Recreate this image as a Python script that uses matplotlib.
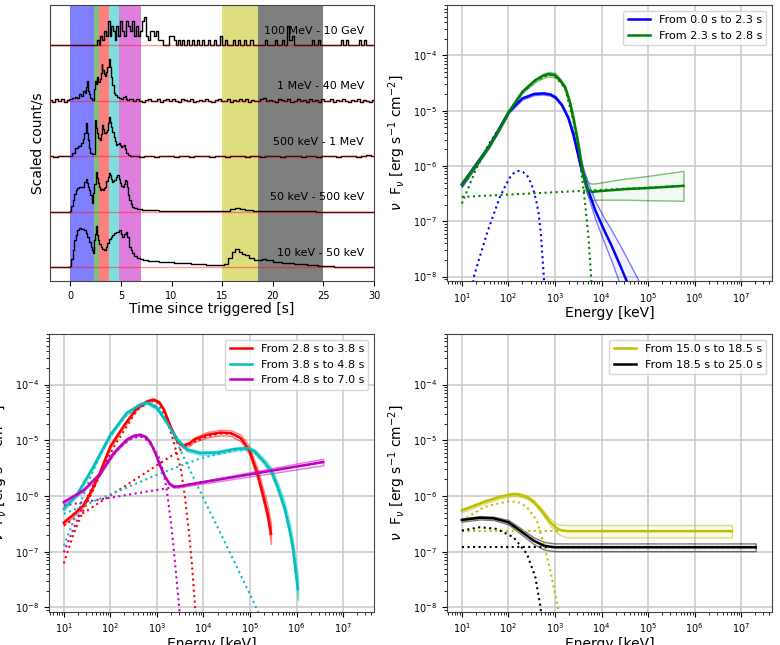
import matplotlib
matplotlib.use('Agg')
import matplotlib.pyplot as plt
from matplotlib.colors import to_rgba
from matplotlib.ticker import LogLocator, NullFormatter
import numpy as np

# ---------------- light curves (scaled counts, stacked) ----------------
band_labels = ['10 keV - 50 keV', '50 keV - 500 keV', '500 keV - 1 MeV',
               '1 MeV - 40 MeV', '100 MeV - 10 GeV']

t_10keV = [-2.0, -1.0, -0.05, 0.0, 0.15, 0.3, 0.45, 0.62, 0.8, 0.95, 1.1, 1.3, 1.45, 1.6, 1.78,
           1.95, 2.1, 2.2, 2.27, 2.35, 2.44, 2.52, 2.6, 2.68, 2.77, 2.9, 3.1, 3.25, 3.42, 3.6,
           3.75, 3.9, 4.08, 4.25, 4.41, 4.6, 4.75, 4.9, 5.05, 5.23, 5.4, 5.56, 5.7, 5.9, 6.05,
           6.22, 6.45, 6.7, 7.0, 7.4, 8.0, 9.5, 11.0, 12.8, 14.0, 15.0, 15.4, 15.8, 16.1, 16.45,
           16.8, 17.1, 17.4, 17.9, 18.4, 18.8, 19.1, 19.6, 20.4, 21.5, 22.7, 24.0, 25.0, 27.0, 30.0]
c_10keV = [0.0, 0.0, 0.0, 0.02, 0.15, 0.31, 0.48, 0.58, 0.66, 0.70, 0.68, 0.69, 0.67, 0.62, 0.55,
           0.45, 0.37, 0.30, 0.25, 0.33, 0.49, 0.6, 0.74, 0.58, 0.49, 0.42, 0.37, 0.33, 0.31, 0.36,
           0.43, 0.5, 0.55, 0.58, 0.61, 0.64, 0.63, 0.67, 0.6, 0.55, 0.6, 0.64, 0.55, 0.37, 0.3,
           0.25, 0.2, 0.16, 0.14, 0.12, 0.11, 0.09, 0.07, 0.05, 0.04, 0.03, 0.06, 0.17, 0.27, 0.32,
           0.28, 0.24, 0.21, 0.16, 0.12, 0.13, 0.15, 0.13, 0.09, 0.07, 0.05, 0.03, 0.02, 0.01, 0.0]

t_50keV = [-2.0, -0.05, 0.0, 0.15, 0.3, 0.45, 0.62, 0.8, 0.95, 1.1, 1.28, 1.45, 1.6, 1.7, 1.78,
           1.94, 2.05, 2.17, 2.25, 2.33, 2.45, 2.6, 2.68, 2.77, 2.9, 3.0, 3.13, 3.26, 3.4, 3.5,
           3.62, 3.75, 3.85, 3.98, 4.08, 4.18, 4.3, 4.41, 4.55, 4.74, 4.85, 5.0, 5.12, 5.23, 5.35,
           5.46, 5.56, 5.66, 5.78, 5.9, 6.05, 6.22, 6.45, 6.7, 7.5, 10.0, 15.0, 15.5, 16.0, 16.45,
           17.0, 17.6, 18.5, 30.0]
c_50keV = [0.0, 0.0, 0.02, 0.1, 0.21, 0.31, 0.39, 0.43, 0.45, 0.44, 0.45, 0.54, 0.58, 0.52, 0.45,
           0.39, 0.3, 0.15, 0.2, 0.33, 0.5, 0.72, 0.6, 0.51, 0.45, 0.39, 0.41, 0.39, 0.42, 0.45,
           0.55, 0.63, 0.69, 0.66, 0.58, 0.54, 0.55, 0.57, 0.62, 0.66, 0.58, 0.51, 0.46, 0.45, 0.5,
           0.57, 0.55, 0.45, 0.3, 0.21, 0.13, 0.09, 0.06, 0.05, 0.03, 0.02, 0.01, 0.02, 0.04, 0.06,
           0.05, 0.03, 0.01, 0.0]

t_500keV = [-2.0, -1.5, -1.0, -0.5, 0.0, 0.3, 0.66, 0.9, 1.15, 1.3, 1.48, 1.56, 1.64, 1.72, 1.8,
            1.92, 2.04, 2.2, 2.35, 2.45, 2.53, 2.62, 2.73, 2.85, 2.96, 3.08, 3.19, 3.3, 3.45, 3.57,
            3.68, 3.8, 3.91, 4.0, 4.11, 4.22, 4.34, 4.47, 4.6, 4.72, 4.84, 4.97, 5.1, 5.2, 5.33,
            5.45, 5.6, 5.8]
c_500keV = [0.01, -0.01, 0.01, 0.0, 0.01, 0.06, 0.14, 0.18, 0.23, 0.3, 0.41, 0.5, 0.59, 0.42, 0.29,
            0.15, 0.05, 0.04, 0.03, 0.3, 0.65, 0.5, 0.41, 0.33, 0.29, 0.4, 0.56, 0.48, 0.41, 0.44,
            0.47, 0.6, 0.71, 0.62, 0.53, 0.44, 0.35, 0.27, 0.2, 0.22, 0.23, 0.2, 0.17, 0.19, 0.2,
            0.12, 0.05, 0.02]
tail_500keV = [0.0, 0.01, -0.01, 0.01, 0.0, -0.01, 0.01, 0.0, 0.01, -0.01, 0.0, 0.01, -0.01, 0.0,
               0.01, 0.0, -0.01, 0.01, 0.0, -0.01, 0.01, 0.01, 0.0, -0.01, 0.0, 0.01, -0.01, 0.0,
               0.01, 0.0, -0.01, 0.01, 0.0, 0.01, -0.01, 0.0, 0.01, -0.01, 0.0, 0.01, 0.0, -0.01,
               0.0, 0.01, 0.0, -0.01, 0.01, 0.02, 0.0]

t_1MeV = [-2.0, -1.7, -1.4, -1.1, -0.8, -0.5, -0.2, 0.0, 0.3, 0.6, 0.8, 1.0, 1.2, 1.35, 1.5,
          1.6, 1.68, 1.76, 1.9, 2.05, 2.25, 2.4, 2.5, 2.6, 2.7, 2.85, 2.95, 3.05, 3.13, 3.22,
          3.35, 3.5, 3.6, 3.75, 3.88, 3.98, 4.1, 4.2, 4.35, 4.5, 4.7, 4.9, 5.1, 5.3, 5.43,
          5.55, 5.7]
c_1MeV = [0.01, -0.02, 0.03, -0.01, 0.02, -0.03, 0.01, 0.02, 0.05, 0.07, 0.05, 0.11, 0.09, 0.17, 0.14,
          0.24, 0.36, 0.17, 0.12, 0.04, 0.01, 0.2, 0.36, 0.3, 0.42, 0.33, 0.38, 0.5, 0.66, 0.55,
          0.48, 0.45, 0.52, 0.6, 0.75, 0.6, 0.42, 0.28, 0.14, 0.1, 0.06, 0.04, 0.03, 0.07, 0.09,
          0.03, 0.01]
tail_1MeV = [0.02, -0.01, 0.03, 0.0, -0.02, 0.01, 0.03, -0.01, 0.0, 0.02, -0.03, 0.01, 0.02, -0.01,
             0.03, 0.0, -0.02, 0.02, 0.01, -0.01, 0.03, -0.02, 0.0, 0.01, -0.01, 0.02, 0.0, -0.02,
             0.01, 0.03, -0.01, 0.0, 0.02, -0.02, 0.01, 0.0, 0.03, -0.01, 0.02, -0.02, 0.01, 0.0,
             -0.01, 0.02, 0.04, -0.01, 0.01, 0.0, -0.02, 0.02, 0.01, -0.01, 0.03, -0.02, 0.0, 0.02,
             -0.01, 0.01, -0.03, 0.02, 0.0, 0.01, -0.02, 0.03, -0.01, 0.0, 0.02, -0.02, 0.01, -0.01,
             0.02, 0.0, -0.02, 0.01, -0.01, 0.02, -0.03, 0.01, 0.0, -0.02, 0.01]

# LAT: bin start times and photon counts
t_LAT = [-2.0, 2.6, 2.8, 2.9, 3.1, 3.3, 3.5, 3.7, 3.9, 4.0, 4.2, 4.4, 4.5, 4.7, 4.9, 5.1, 5.3, 5.5,
         5.7, 5.9, 6.1, 6.3, 6.5, 6.7, 6.9, 7.1, 7.3, 7.5, 7.7, 7.9, 8.1, 8.3, 8.5, 8.7, 8.9, 9.2,
         9.8, 10.2, 10.4, 10.6, 10.8, 11.0, 11.2, 11.5, 11.7, 12.0, 12.2, 12.5, 12.7, 13.0, 13.2,
         13.6, 13.8, 14.2, 14.4, 14.8, 15.0, 15.3, 15.5, 16.1, 16.3, 16.6, 16.8, 17.2, 17.4, 17.8,
         18.0, 19.2, 19.4, 20.2, 20.4, 20.9, 21.1, 21.4, 21.6, 21.9, 22.1, 23.9, 24.1, 24.5, 24.7,
         26.7, 26.9, 27.2, 27.4, 28.5, 28.7, 29.0, 29.2, 30.0]
n_LAT = [0, 1, 0, 2, 1, 3, 2, 5, 2, 4, 3, 1, 4, 2, 5, 3, 2, 5, 4, 3, 5, 2, 4, 2, 3, 5, 6, 2, 1, 3,
         3, 2, 3, 1, 1, 0, 2, 1, 0, 1, 0, 1, 0, 1, 0, 1, 0, 1, 0, 1, 0, 1, 0, 1, 0, 2, 0, 1, 0, 1,
         0, 1, 0, 1, 0, 1, 0, 1, 0, 1, 0, 1, 0, 4, 1, 2, 0, 1, 0, 1, 0, 1, 0, 1, 0, 1, 0, 1, 0, 0]
LAT_scale = 0.085

intervals = [(0.0, 2.3, 'b'), (2.3, 2.8, 'g'), (2.8, 3.8, 'r'), (3.8, 4.8, 'c'),
             (4.8, 7.0, 'm'), (15.0, 18.5, 'y'), (18.5, 25.0, 'k')]

# ---------------- spectra: log10(E/keV), log10(nuFnu), 1-sigma band (dex) ----------------
blue_logE = [1.0, 1.3, 1.58, 1.8, 2.01, 2.3, 2.55, 2.76, 2.9, 3.01, 3.15, 3.29, 3.4, 3.54, 3.7,
             3.86, 4.05, 4.22, 4.38, 4.54, 4.75, 5.0]
blue_logF = [-6.34, -5.98, -5.65, -5.33, -5.02, -4.78, -4.70, -4.69, -4.71, -4.76, -4.9, -5.14,
             -5.45, -5.95, -6.4, -6.79, -7.15, -7.45, -7.76, -8.08, -8.5, -9.0]
blue_err = [0.04, 0.03, 0.02, 0.02, 0.02, 0.02, 0.02, 0.02, 0.02, 0.02, 0.02, 0.03, 0.05, 0.08,
            0.12, 0.16, 0.22, 0.28, 0.35, 0.42, 0.5, 0.6]
blue_bb_logE = [1.2, 1.26, 1.4, 1.54, 1.68, 1.82, 1.94, 2.04, 2.14, 2.22, 2.31, 2.4, 2.48, 2.54,
                2.6, 2.65, 2.7, 2.76, 2.8]
blue_bb_logF = [-8.3, -8.0, -7.6, -7.22, -6.88, -6.56, -6.35, -6.2, -6.11, -6.09, -6.11, -6.17,
                -6.3, -6.44, -6.64, -6.86, -7.25, -8.0, -8.6]

green_logE = [1.0, 1.3, 1.58, 1.8, 2.01, 2.3, 2.58, 2.75, 2.87, 3.0, 3.1, 3.22, 3.32, 3.4, 3.5,
              3.56, 3.62, 3.68, 3.74, 3.8, 3.9, 4.5, 5.0, 5.76]
green_logF = [-6.33, -5.99, -5.66, -5.35, -5.02, -4.66, -4.45, -4.37, -4.34, -4.36, -4.44, -4.58,
              -4.85, -5.15, -5.6, -5.92, -6.2, -6.38, -6.45, -6.47, -6.46, -6.42, -6.4, -6.36]
green_err = [0.04, 0.03, 0.02, 0.02, 0.02, 0.02, 0.03, 0.04, 0.04, 0.04, 0.03, 0.03, 0.03, 0.03,
             0.04, 0.05, 0.08, 0.11, 0.14, 0.15, 0.15, 0.19, 0.22, 0.27]
green_pl_logE = [1.0, 5.76]
green_pl_logF = [-6.56, -6.36]
green_cpl_logE = [1.0, 1.3, 1.58, 1.8, 2.01, 2.3, 2.58, 2.87, 3.0, 3.22, 3.4, 3.5, 3.58, 3.65,
                  3.72, 3.78, 3.82]
green_cpl_logF = [-6.68, -6.07, -5.6, -5.33, -5.03, -4.67, -4.46, -4.35, -4.37, -4.6, -5.2, -5.7,
                  -6.2, -6.7, -7.3, -8.05, -8.7]

red_logE = [1.0, 1.2, 1.42, 1.6, 1.78, 2.0, 2.28, 2.57, 2.79, 2.93, 3.05, 3.15, 3.29, 3.44, 3.56,
            3.7, 3.8, 4.08, 4.37, 4.59, 4.8, 4.98, 5.16, 5.27, 5.38, 5.45]
red_logF = [-6.48, -6.34, -6.17, -5.9, -5.57, -5.11, -4.75, -4.42, -4.3, -4.27, -4.32, -4.45, -4.75,
            -5.02, -5.1, -5.06, -4.99, -4.9, -4.86, -4.87, -4.96, -5.17, -5.6, -5.95, -6.32, -6.68]
red_err = [0.04, 0.03, 0.03, 0.02, 0.02, 0.02, 0.02, 0.02, 0.02, 0.02, 0.02, 0.02, 0.02, 0.03,
           0.03, 0.04, 0.04, 0.05, 0.05, 0.05, 0.06, 0.07, 0.09, 0.11, 0.14, 0.18]
red_c1_logE = [1.0, 1.2, 1.42, 1.65, 1.85, 2.1, 2.3, 2.57, 2.79, 2.93, 3.05, 3.2, 3.35, 3.51, 3.6,
               3.68, 3.75, 3.82, 3.86]
red_c1_logF = [-7.21, -6.7, -6.26, -5.85, -5.48, -5.08, -4.82, -4.46, -4.33, -4.29, -4.34, -4.6,
               -5.0, -5.5, -6.0, -6.6, -7.2, -8.0, -8.5]
red_c2_logE = [1.0, 2.0, 3.0, 3.51, 3.8, 4.08, 4.37, 4.59, 4.8, 4.98, 5.16, 5.27, 5.38, 5.45]
red_c2_logF = [-6.53, -5.99, -5.45, -5.17, -5.03, -4.93, -4.88, -4.88, -4.96, -5.17, -5.6, -5.95,
               -6.32, -6.68]

cyan_logE = [1.0, 1.27, 1.63, 2.0, 2.35, 2.64, 2.79, 3.0, 3.22, 3.44, 3.65, 3.94, 4.3, 4.66, 4.95,
             5.1, 5.3, 5.45, 5.6, 5.74, 5.85, 5.92, 5.98, 6.03]
cyan_logF = [-6.23, -5.99, -5.48, -4.9, -4.51, -4.36, -4.32, -4.42, -4.69, -4.99, -5.17, -5.23,
             -5.22, -5.16, -5.14, -5.2, -5.38, -5.54, -5.85, -6.2, -6.6, -6.92, -7.35, -7.67]
cyan_err = [0.03, 0.03, 0.03, 0.03, 0.03, 0.03, 0.03, 0.03, 0.03, 0.03, 0.03, 0.03, 0.03, 0.03,
            0.03, 0.04, 0.05, 0.06, 0.08, 0.1, 0.12, 0.14, 0.17, 0.2]
cyan_c1_logE = [1.0, 1.3, 1.6, 1.85, 2.1, 2.35, 2.6, 2.79, 2.95, 3.07, 3.5, 4.0, 4.5, 5.0, 5.2]
cyan_c1_logF = [-6.89, -6.25, -5.6, -5.15, -4.8, -4.54, -4.39, -4.34, -4.37, -4.43, -5.17, -6.04,
                -6.9, -7.77, -8.12]
cyan_c2_logE = [1.0, 2.0, 3.0, 3.94, 4.3, 4.66, 4.95, 5.1, 5.3, 5.45, 5.6, 5.74, 5.85, 5.92, 5.98,
                6.03]
cyan_c2_logF = [-6.32, -5.97, -5.62, -5.32, -5.25, -5.18, -5.16, -5.22, -5.39, -5.55, -5.86, -6.21,
                -6.61, -6.93, -7.36, -7.68]

magenta_logE = [1.0, 1.42, 1.78, 2.07, 2.35, 2.5, 2.64, 2.76, 2.86, 2.97, 3.07, 3.17, 3.27, 3.36,
                3.45, 3.65, 6.57]
magenta_logF = [-6.11, -5.9, -5.6, -5.23, -4.99, -4.92, -4.9, -4.94, -5.04, -5.24, -5.46, -5.65,
                -5.78, -5.83, -5.83, -5.8, -5.39]
magenta_err = [0.03, 0.02, 0.02, 0.02, 0.02, 0.02, 0.02, 0.02, 0.02, 0.02, 0.02, 0.02, 0.02, 0.02,
               0.02, 0.02, 0.06]
magenta_pl_logE = [1.0, 6.57]
magenta_pl_logF = [-6.17, -5.39]
magenta_c1_logE = [1.0, 1.3, 1.6, 1.9, 2.2, 2.45, 2.64, 2.8, 2.95, 3.05, 3.15, 3.22, 3.29, 3.35,
                   3.4, 3.45, 3.49, 3.53]
magenta_c1_logF = [-7.01, -6.4, -5.85, -5.45, -5.12, -4.97, -4.93, -5.0, -5.17, -5.32, -5.6, -5.95,
                   -6.4, -6.85, -7.3, -7.75, -8.1, -8.5]

yellow_logE = [1.0, 1.47, 1.8, 2.08, 2.2, 2.4, 2.55, 2.68, 2.8, 2.9, 3.0, 3.08, 3.18, 3.26, 3.4, 6.8]
yellow_logF = [-6.26, -6.11, -6.02, -5.97, -5.97, -6.02, -6.11, -6.23, -6.36, -6.47, -6.55, -6.6,
               -6.62, -6.63, -6.63, -6.63]
yellow_err = [0.03, 0.03, 0.03, 0.03, 0.03, 0.03, 0.03, 0.04, 0.05, 0.06, 0.07, 0.09, 0.1, 0.11,
              0.11, 0.11]
yellow_pl_logE = [1.0, 6.8]
yellow_pl_logF = [-6.63, -6.63]
yellow_c1_logE = [1.0, 1.47, 1.8, 2.04, 2.25, 2.4, 2.61, 2.76, 2.9, 3.04, 3.15]
yellow_c1_logF = [-6.44, -6.2, -6.13, -6.09, -6.12, -6.2, -6.44, -6.86, -7.34, -7.9, -8.4]

black_logE = [1.0, 1.39, 1.68, 2.0, 2.25, 2.54, 2.76, 2.9, 3.0, 7.31]
black_logF = [-6.43, -6.39, -6.4, -6.47, -6.62, -6.8, -6.89, -6.91, -6.92, -6.92]
black_err = [0.03, 0.03, 0.03, 0.04, 0.05, 0.06, 0.07, 0.07, 0.07, 0.07]
black_pl_logE = [1.0, 7.31]
black_pl_logF = [-6.92, -6.92]
black_c1_logE = [1.0, 1.39, 1.75, 2.11, 2.4, 2.58, 2.68, 2.75]
black_c1_logF = [-6.62, -6.56, -6.59, -6.74, -7.04, -7.46, -7.95, -8.4]


def spectrum(ax, logE, logF, err, color, label):
    E = 10 ** np.array(logE)
    F = np.array(logF)
    e = np.array(err)
    ax.fill_between(E, 10 ** (F - e), 10 ** (F + e), facecolor=to_rgba(color, 0.05),
                    edgecolor=to_rgba(color, 0.5), lw=1, zorder=2)
    ax.plot(E, 10 ** F, color=color, lw=1.8, label=label, zorder=4)


def component(ax, logE, logF, color):
    ax.plot(10 ** np.array(logE), 10 ** np.array(logF), color=color, ls=':', lw=1.5, zorder=3)


def style_spec(ax):
    ax.set_xscale('log')
    ax.set_yscale('log')
    ax.set_xlim(4.8, 4.6e7)
    ax.set_ylim(8.3e-9, 8.1e-4)
    for axis in (ax.xaxis, ax.yaxis):
        axis.set_major_locator(LogLocator(base=10, numticks=30))
        axis.set_minor_locator(LogLocator(base=10, subs=np.arange(2, 10), numticks=100))
        axis.set_minor_formatter(NullFormatter())
    ax.grid(True, which='major', color='#c8c8c8', lw=1.1)
    ax.set_axisbelow(True)
    for s in ax.spines.values():
        s.set_color('#444444')
    ax.tick_params(labelsize=7)
    ax.set_xlabel('Energy [keV]', fontsize=10, labelpad=1)
    ax.set_ylabel(r'$\nu$  F$_\nu$ [erg s$^{-1}$ cm$^{-2}$]', fontsize=10)
    ax.legend(loc='upper right', fontsize=8)


fig = plt.figure(figsize=(7.8, 6.45), dpi=100)
ax_lc = fig.add_axes([0.0641, 0.5643, 0.4154, 0.4279])
ax_a = fig.add_axes([0.5731, 0.5643, 0.4167, 0.4279])
ax_b = fig.add_axes([0.0628, 0.0512, 0.4167, 0.431])
ax_c = fig.add_axes([0.5731, 0.0512, 0.4167, 0.431])

# ---- light curves ----
for t0, t1, c in intervals:
    ax_lc.axvspan(t0, t1, color=c, alpha=0.5, lw=0, zorder=0)

curves = [(t_10keV, c_10keV), (t_50keV, c_50keV),
          (t_500keV + list(np.linspace(6.0, 30.0, len(tail_500keV))), c_500keV + tail_500keV),
          (t_1MeV + list(np.linspace(6.0, 30.0, len(tail_1MeV))), c_1MeV + tail_1MeV)]
for i, (t, c) in enumerate(curves):
    ax_lc.plot(t, i + np.array(c), color='k', lw=1, drawstyle='steps-mid', zorder=2)
ax_lc.step(t_LAT, 4 + LAT_scale * np.array(n_LAT), where='post', color='k', lw=1, zorder=2)
for i, lab in enumerate(band_labels):
    ax_lc.axhline(i, color='r', alpha=0.4, lw=1, zorder=3)
    ax_lc.text(29.0, i + 0.26, lab, ha='right', va='center', fontsize=8, zorder=4)
ax_lc.set_xlim(-2, 30)
ax_lc.set_ylim(-0.25, 4.72)
ax_lc.set_yticks([])
ax_lc.set_xticks([0, 5, 10, 15, 20, 25, 30])
for s in ax_lc.spines.values():
    s.set_color('#444444')
ax_lc.tick_params(labelsize=7)
ax_lc.set_xlabel('Time since triggered [s]', fontsize=10, labelpad=1)
ax_lc.set_ylabel('Scaled count/s', fontsize=10)

# ---- spectra ----
spectrum(ax_a, blue_logE, blue_logF, blue_err, 'b', 'From 0.0 s to 2.3 s')
component(ax_a, blue_bb_logE, blue_bb_logF, 'b')
spectrum(ax_a, green_logE, green_logF, green_err, 'g', 'From 2.3 s to 2.8 s')
component(ax_a, green_pl_logE, green_pl_logF, 'g')
component(ax_a, green_cpl_logE, green_cpl_logF, 'g')
style_spec(ax_a)

spectrum(ax_b, red_logE, red_logF, red_err, 'r', 'From 2.8 s to 3.8 s')
component(ax_b, red_c1_logE, red_c1_logF, 'r')
component(ax_b, red_c2_logE, red_c2_logF, 'r')
spectrum(ax_b, cyan_logE, cyan_logF, cyan_err, 'c', 'From 3.8 s to 4.8 s')
component(ax_b, cyan_c1_logE, cyan_c1_logF, 'c')
component(ax_b, cyan_c2_logE, cyan_c2_logF, 'c')
spectrum(ax_b, magenta_logE, magenta_logF, magenta_err, 'm', 'From 4.8 s to 7.0 s')
component(ax_b, magenta_pl_logE, magenta_pl_logF, 'm')
component(ax_b, magenta_c1_logE, magenta_c1_logF, 'm')
style_spec(ax_b)

spectrum(ax_c, yellow_logE, yellow_logF, yellow_err, 'y', 'From 15.0 s to 18.5 s')
component(ax_c, yellow_pl_logE, yellow_pl_logF, 'y')
component(ax_c, yellow_c1_logE, yellow_c1_logF, 'y')
spectrum(ax_c, black_logE, black_logF, black_err, 'k', 'From 18.5 s to 25.0 s')
component(ax_c, black_pl_logE, black_pl_logF, 'k')
component(ax_c, black_c1_logE, black_c1_logF, 'k')
style_spec(ax_c)

fig.savefig('out.png', dpi=100)
